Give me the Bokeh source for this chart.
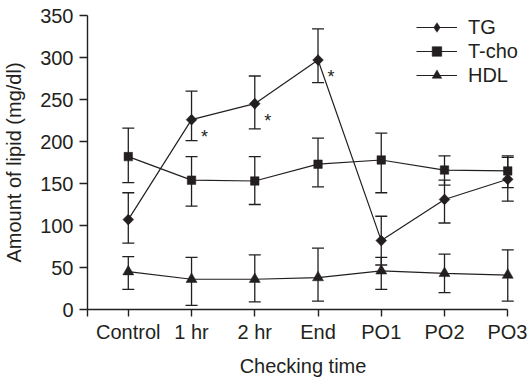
import math
from bokeh.plotting import figure
from bokeh.models import (ColumnDataSource, Whisker, TeeHead, FixedTicker,
                          Legend, LegendItem)
from bokeh.embed import file_html
from bokeh.resources import INLINE
from bokeh.core.properties import value

# ---------------- data ----------------
categories = ["Control", "1 hr", "2 hr", "End", "PO1", "PO2", "PO3"]

tg = [107, 226, 245, 297, 82, 131, 155]
tg_hi = [139, 260, 278, 334, 111, 154, 181]
tg_lo = [79, 201, 215, 270, 53, 103, 129]

tcho = [182, 154, 153, 173, 178, 166, 165]
tcho_hi = [216, 182, 182, 204, 210, 183, 183]
tcho_lo = [151, 123, 125, 146, 139, 148, 145]

hdl = [45, 36, 36, 38, 46, 43, 41]
hdl_hi = [63, 62, 65, 73, 62, 66, 71]
hdl_lo = [24, 5, 9, 10, 24, 20, 10]

tg_sig = ["", "*", "*", "*", "", "", ""]

y_ticks = [0, 50, 100, 150, 200, 250, 300, 350]

# ---------------- style ----------------
INK = "#231f20"
FONT = "Liberation Sans"
FS = "20px"

x = list(range(len(categories)))
x_start = -0.64

p = figure(width=527, height=380, output_backend="svg", toolbar_location=None,
           x_range=(-0.645, 6.17), y_range=(0, 350),
           min_border_left=86, min_border_right=9,
           min_border_top=15, min_border_bottom=71)
p.outline_line_color = None
p.grid.visible = False
p.background_fill_color = "white"
p.border_fill_color = "white"

items = []


def whisk(src):
    w = Whisker(base="x", upper="hi", lower="lo", source=src,
                line_color=INK, line_width=1.3,
                upper_head=TeeHead(size=12, line_color=INK, line_width=1.3),
                lower_head=TeeHead(size=12, line_color=INK, line_width=1.3))
    p.add_layout(w)


# TG: diamonds (rotated squares in the plot; a hidden diamond glyph feeds the legend)
src_tg = ColumnDataSource(dict(x=x, y=tg, hi=tg_hi, lo=tg_lo))
whisk(src_tg)
ln_tg = p.line("x", "y", source=src_tg, line_color=INK, line_width=1.2)
leg_tg = p.scatter("x", "y", source=src_tg, marker="diamond", size=10.5,
                   fill_color=INK, line_color=INK, line_width=0.5)
p.scatter("x", "y", source=src_tg, marker="square", size=7.6, angle=math.pi / 4,
          fill_color=INK, line_color=INK, line_width=0.5)
items.append(LegendItem(label="TG", renderers=[ln_tg, leg_tg]))

# T-cho: squares
src_tc = ColumnDataSource(dict(x=x, y=tcho, hi=tcho_hi, lo=tcho_lo))
whisk(src_tc)
ln_tc = p.line("x", "y", source=src_tc, line_color=INK, line_width=1.2)
sc_tc = p.scatter("x", "y", source=src_tc, marker="square", size=8.5,
                  fill_color=INK, line_color=INK, line_width=0.5)
items.append(LegendItem(label="T-cho", renderers=[ln_tc, sc_tc]))

# HDL: triangles
src_hd = ColumnDataSource(dict(x=x, y=hdl, hi=hdl_hi, lo=hdl_lo))
whisk(src_hd)
ln_hd = p.line("x", "y", source=src_hd, line_color=INK, line_width=1.2)
sc_hd = p.scatter("x", "y", source=src_hd, marker="triangle", size=11,
                  fill_color=INK, line_color=INK, line_width=0.5)
items.append(LegendItem(label="HDL", renderers=[ln_hd, sc_hd]))

star_src = ColumnDataSource(dict(x=x, y=tg, t=tg_sig))
p.text("x", "y", text="t", source=star_src, x_offset=13, y_offset=17,
       text_font=value(FONT), text_font_size="18px", text_color=INK,
       text_align="center", text_baseline="alphabetic")

legend = Legend(items=items, location="top_right", padding=0, spacing=0,
                margin=0, glyph_width=41, glyph_height=24, label_height=20,
                label_standoff=11, border_line_color=None,
                background_fill_alpha=0,
                label_text_font=FONT, label_text_font_size=FS,
                label_text_color=INK, label_text_baseline="middle")
p.add_layout(legend)

# axes
for ax in (p.xaxis[0], p.yaxis[0]):
    ax.axis_line_color = INK
    ax.axis_line_width = 1.4
    ax.major_tick_line_color = INK
    ax.major_tick_line_width = 1.4
    ax.major_tick_in = 0
    ax.minor_tick_line_color = None
    ax.major_label_text_font = FONT
    ax.major_label_text_font_size = FS
    ax.major_label_text_color = INK
    ax.axis_label_text_font = FONT
    ax.axis_label_text_font_size = FS
    ax.axis_label_text_color = INK
    ax.axis_label_text_font_style = "normal"

p.yaxis.ticker = FixedTicker(ticks=y_ticks)
p.yaxis.major_tick_out = 8
p.yaxis.major_label_standoff = 6
p.yaxis.axis_label = "Amount of lipid (mg/dl)"
p.yaxis.axis_label_standoff = 12

p.xaxis.ticker = FixedTicker(ticks=[x_start] + x)
overrides = {i: c for i, c in enumerate(categories)}
overrides[x_start] = ""
p.xaxis.major_label_overrides = overrides
p.xaxis.bounds = (x_start, len(categories) - 1)
p.xaxis.major_tick_out = 7
p.xaxis.major_label_standoff = 4
p.xaxis.axis_label = "Checking time"
p.xaxis.axis_label_standoff = 9

open("out.html", "w").write(file_html(p, INLINE))
